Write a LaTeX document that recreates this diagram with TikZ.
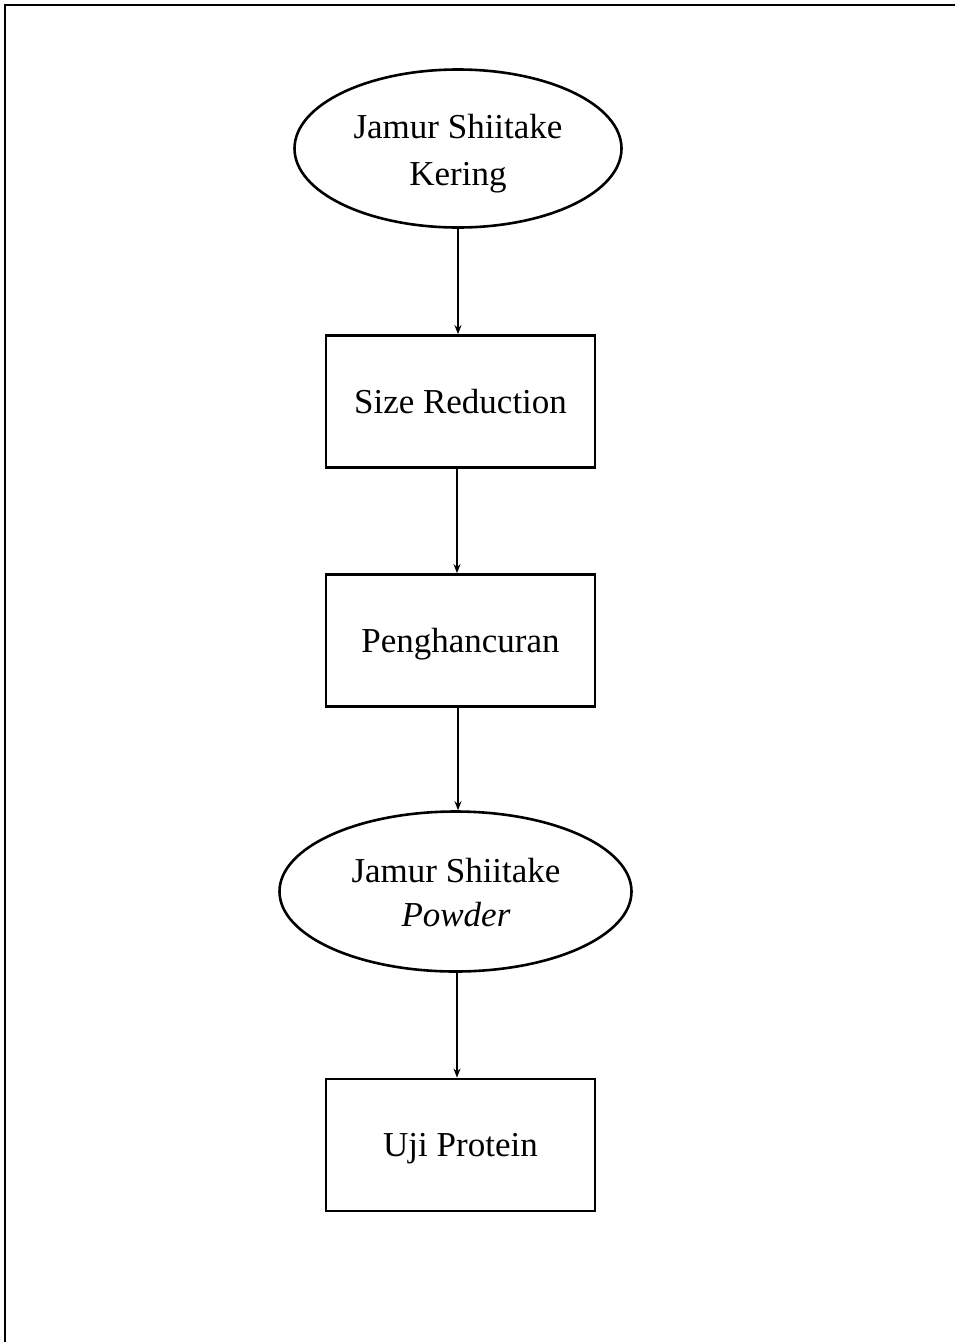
\documentclass[tikz,border=0pt]{standalone}
\usepackage{fontspec}
\setmainfont{Liberation Serif}
\usetikzlibrary{shapes.geometric,arrows.meta}
\begin{document}
\begin{tikzpicture}[x=1pt,y=-1pt,
  every node/.style={font=\fontsize{35}{46}\selectfont, align=center, inner sep=0pt},
  ell/.style={draw, line width=2.6pt, ellipse, minimum width=#1},
  txt/.style={anchor=base},
  proc/.style={draw, line width=2.8pt, rectangle, minimum width=269pt, minimum height=132pt,
    text height=27pt, text depth=4pt},
  arr/.style={line width=1.6pt, -{Stealth[length=9pt,width=7pt]}}]
\useasboundingbox (0,0) rectangle (955,1342);
\draw[line width=2.4pt] (5,1342) -- (5,5) -- (955,5);
\node[ell=327pt, minimum height=158pt] (n1) at (458,148.5) {};
\node[txt] (t1a) at (458,138) {Jamur Shiitake};
\node[txt] (t1b) at (458,185) {Kering};
\node[proc] (n2) at (460.5,401.5) {Size Reduction};
\node[proc] (n3) at (460.5,640.5) {Penghancuran};
\node[ell=352pt, minimum height=160pt] (n4) at (455.5,891.5) {};
\node[txt] (t4a) at (456,882) {Jamur Shiitake};
\node[txt] (t4b) at (456,926) {\textit{Powder}};
\node[proc] (n5) at (460.5,1145) {Uji Protein};
\draw[arr] (n1.south -| 458,0) -- (n2.north -| 458,0);
\draw[arr] (n2.south -| 457,0) -- (n3.north -| 457,0);
\draw[arr] (n3.south -| 458,0) -- (n4.north -| 458,0);
\draw[arr] (n4.south -| 457,0) -- (n5.north -| 457,0);
\end{tikzpicture}
\end{document}
